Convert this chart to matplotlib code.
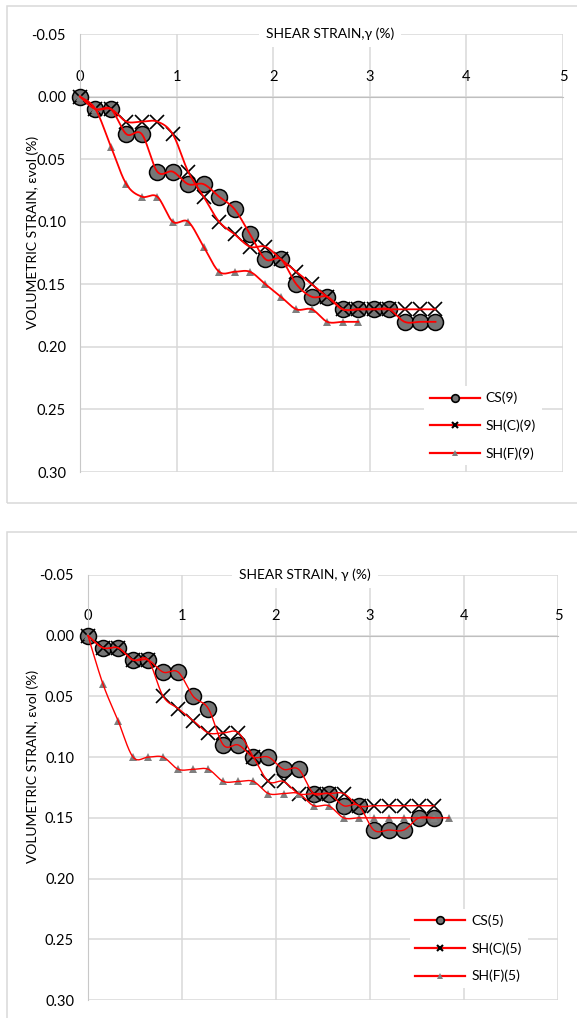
import numpy as np
import matplotlib.pyplot as plt
from matplotlib.lines import Line2D
from matplotlib.patches import Rectangle
from matplotlib.ticker import FormatStrFormatter

plt.rcParams['font.family'] = ['Lato', 'DejaVu Sans']

# shear strain readings (%), equally spaced steps
strain_x = [0.00, 0.16, 0.32, 0.48, 0.64, 0.80, 0.96, 1.12, 1.28, 1.44, 1.60, 1.76,
            1.92, 2.08, 2.24, 2.40, 2.56, 2.72, 2.88, 3.04, 3.20, 3.36, 3.52, 3.68, 3.84]

# top chart (9)
cs9 = [0.00, 0.01, 0.01, 0.03, 0.03, 0.06, 0.06, 0.07, 0.07, 0.08, 0.09, 0.11,
       0.13, 0.13, 0.15, 0.16, 0.16, 0.17, 0.17, 0.17, 0.17, 0.18, 0.18, 0.18]
shc9 = [0.00, 0.01, 0.01, 0.02, 0.02, 0.02, 0.03, 0.06, 0.08, 0.10, 0.11, 0.12,
        0.12, 0.13, 0.14, 0.15, 0.16, 0.17, 0.17, 0.17, 0.17, 0.17, 0.17, 0.17]
shf9 = [0.00, 0.01, 0.04, 0.07, 0.08, 0.08, 0.10, 0.10, 0.12, 0.14, 0.14, 0.14,
        0.15, 0.16, 0.17, 0.17, 0.18, 0.18, 0.18]

# bottom chart (5)
cs5 = [0.00, 0.01, 0.01, 0.02, 0.02, 0.03, 0.03, 0.05, 0.06, 0.09, 0.09, 0.10,
       0.10, 0.11, 0.11, 0.13, 0.13, 0.14, 0.14, 0.16, 0.16, 0.16, 0.15, 0.15]
shc5 = [0.00, 0.01, 0.01, 0.02, 0.02, 0.05, 0.06, 0.07, 0.08, 0.08, 0.08, 0.10,
        0.12, 0.12, 0.13, 0.13, 0.13, 0.13, 0.14, 0.14, 0.14, 0.14, 0.14, 0.14]
shf5 = [0.00, 0.04, 0.07, 0.10, 0.10, 0.10, 0.11, 0.11, 0.11, 0.12, 0.12, 0.12,
        0.13, 0.13, 0.13, 0.14, 0.14, 0.15, 0.15, 0.15, 0.15, 0.15, 0.15, 0.15, 0.15]

x_ticks = [0, 1, 2, 3, 4, 5]
y_ticks = [-0.05, 0.00, 0.05, 0.10, 0.15, 0.20, 0.25, 0.30]

GRID = '#d9d9d9'
RED = '#ff0000'
GREY = '#767676'


def smooth_line(x, y, n=16):
    # excel-like smoothed line (bezier through the points)
    p = np.column_stack([x, y]).astype(float)
    out = [p[0]]
    t = np.linspace(0, 1, n)[1:, None]
    for i in range(len(p) - 1):
        p0 = p[i - 1] if i > 0 else p[i]
        p1, p2 = p[i], p[i + 1]
        p3 = p[i + 2] if i + 2 < len(p) else p[i + 1]
        c1 = p1 + (p2 - p0) / 6.0
        c2 = p2 - (p3 - p1) / 6.0
        seg = ((1 - t) ** 3) * p1 + 3 * ((1 - t) ** 2) * t * c1 + 3 * (1 - t) * t ** 2 * c2 + t ** 3 * p2
        out.extend(seg)
    out = np.array(out)
    return out[:, 0], out[:, 1]


def draw_panel(ax, series, names, xlabel, lw, label_x, ylab_xy, leg_anchor):
    styles = [dict(marker='o', ms=11.5, mfc=GREY, mec='black', mew=1.1),
              dict(marker='x', ms=10, mec='black', mew=1.2),
              dict(marker='^', ms=6, mfc='#7f7f7f', mec='#7f7f7f', mew=0)]
    for ys, st in zip(series, styles):
        xs = strain_x[:len(ys)]
        ax.plot(xs, ys, ls='none', zorder=3, clip_on=False, **st)
        sx, sy = smooth_line(xs, ys)
        ax.plot(sx, sy, color=RED, lw=lw, zorder=4, clip_on=False)

    ax.set_xlim(0, 5)
    ax.set_ylim(0.30, -0.05)
    ax.set_xticks(x_ticks)
    ax.set_yticks(y_ticks)
    ax.yaxis.set_major_formatter(FormatStrFormatter('%.2f'))
    ax.grid(True, color=GRID, lw=1.1)
    ax.set_axisbelow(True)

    ax.xaxis.set_ticks_position('top')
    ax.spines['top'].set_position(('data', 0))
    ax.spines['top'].set_color('#bfbfbf')
    ax.spines['left'].set_color('#c8c8c8')
    ax.spines['right'].set_visible(False)
    ax.spines['bottom'].set_visible(False)
    ax.tick_params(axis='x', length=0, pad=9, labelsize=10.5)
    ax.tick_params(axis='y', length=0, pad=10, labelsize=10.5)

    ax.set_ylabel('VOLUMETRIC STRAIN, εvol (%)', fontsize=10)
    ax.yaxis.set_label_coords(*ylab_xy)
    ax.text(label_x, 1.0, xlabel, transform=ax.transAxes, ha='center', va='center',
            fontsize=10, zorder=5,
            bbox=dict(boxstyle='square,pad=0.5', fc='white', ec='none'))

    handles = [Line2D([], [], color=RED, lw=1.6, marker='o', ms=5.5, mfc=GREY, mec='black', mew=1.2),
               Line2D([], [], color=RED, lw=1.6, marker='x', ms=5, mec='black', mew=1.5),
               Line2D([], [], color=RED, lw=1.6, marker='^', ms=5, mfc='#7f7f7f', mec='#7f7f7f', mew=0)]
    leg = ax.legend(handles, names, loc='lower right', bbox_to_anchor=leg_anchor,
                    fontsize=10, handlelength=3.6, labelspacing=1.08, handletextpad=0.45,
                    borderpad=0.4, frameon=True, fancybox=False, framealpha=1)
    leg.get_frame().set_edgecolor('none')
    leg.set_zorder(6)


fig = plt.figure(figsize=(5.77, 10.18), dpi=100)

# chart borders
fig.patches.append(Rectangle((7 / 577, 1 - 503 / 1018), 0.999, 497 / 1018, transform=fig.transFigure,
                             fill=False, ec=GRID, lw=1.1))
fig.patches.append(Rectangle((7 / 577, -0.1), 0.999, 0.1 + 1 - 532 / 1018, transform=fig.transFigure,
                             fill=False, ec=GRID, lw=1.1))

ax1 = fig.add_axes([80 / 577, 1 - 472 / 1018, 483 / 577, 438 / 1018])
draw_panel(ax1, [cs9, shc9, shf9], ['CS(9)', 'SH(C)(9)', 'SH(F)(9)'],
           'SHEAR STRAIN,γ (%)', 1.3, 0.518, (-0.085, 0.548), (0.97, 0.0))

ax2 = fig.add_axes([88 / 577, 1 - 1000 / 1018, 470 / 577, 425 / 1018])
draw_panel(ax2, [cs5, shc5, shf5], ['CS(5)', 'SH(C)(5)', 'SH(F)(5)'],
           'SHEAR STRAIN, γ (%)', 1.0, 0.462, (-0.105, 0.55), (0.95, 0.012))

fig.savefig('out.png', dpi=100)
